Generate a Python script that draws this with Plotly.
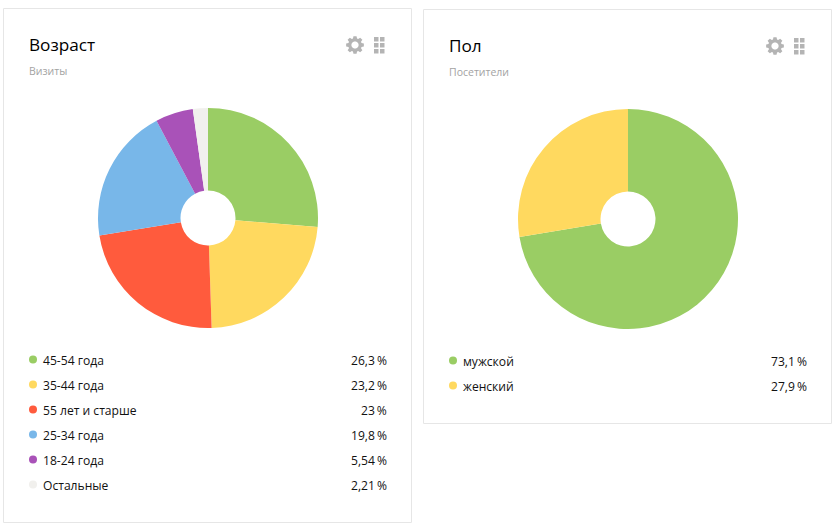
import math
import plotly.graph_objects as go

# Age breakdown (visits, %)
age_labels = ["45-54 года", "35-44 года", "55 лет и старше", "25-34 года", "18-24 года", "Остальные"]
age_values = [26.3, 23.2, 23, 19.8, 5.54, 2.21]
age_colors = ["#9acd64", "#ffd95f", "#ff5b3d", "#78b7e9", "#a952b8", "#f1f0ed"]

# Gender breakdown (visitors, %)
gender_labels = ["мужской", "женский"]
gender_values = [73.1, 27.9]
gender_colors = ["#9acd64", "#ffd95f"]

W, H = 840, 530
FONT = "Open Sans"
BORDER = "#e6e6e6"
ICON = "#b4b4b4"


def pct(v):
    return f"{v}".replace(".", ",") + "\u2009%"


def gear_path(cx, cy, r_out, r_in, r_hole, teeth=8):
    pts = []
    step = 2 * math.pi / teeth
    for i in range(teeth):
        a = i * step - math.pi / 2
        for da, r in ((-0.30, r_in), (-0.17, r_out), (0.17, r_out), (0.30, r_in)):
            pts.append((cx + r * math.cos(a + da * step * 1.3), cy + r * math.sin(a + da * step * 1.3)))
    p = "M" + " L".join(f"{x:.2f},{y:.2f}" for x, y in pts) + " Z"
    # reversed inner ring leaves the centre of the gear open
    hole = [(cx + r_hole * math.cos(-k * math.pi / 12), cy + r_hole * math.sin(-k * math.pi / 12)) for k in range(24)]
    return p + " M" + " L".join(f"{x:.2f},{y:.2f}" for x, y in hole) + " Z"


fig = go.Figure()
shapes, notes = [], []


def text(x, y, s, size, color="#111111", anchor="left"):
    notes.append(dict(x=x, y=y, text=s, xref="x", yref="y", showarrow=False, xanchor=anchor,
                      yanchor="middle", font=dict(family=FONT, size=size, color=color)))


def card(x0, y0, x1, y1, cx, cy, title, subtitle, labels, values, colors, first_row):
    shapes.append(dict(type="rect", x0=x0, y0=y0, x1=x1, y1=y1, xref="x", yref="y", layer="below",
                       line=dict(color=BORDER, width=1), fillcolor="white"))
    tx = x0 + 23
    text(tx, y0 + 36, title, 17.2, "#000000")
    text(tx, y0 + 62, subtitle, 10.5, "#a3a3a3")

    # settings gear and drag handle
    gx = x0 + 351.5
    gy = y0 + 36.5
    shapes.append(dict(type="path", path=gear_path(gx, gy, 9, 6.8, 3.6), xref="x", yref="y",
                       fillcolor=ICON, line=dict(width=0), layer="below"))
    for col in (0, 1):
        for row in (0, 1, 2):
            sx = x0 + 370.5 + col * 6
            sy = y0 + 28.5 + row * 6
            shapes.append(dict(type="rect", x0=sx, y0=sy, x1=sx + 4.5, y1=sy + 4.5, xref="x", yref="y",
                               fillcolor=ICON, line=dict(width=0), layer="below"))

    r = 110
    fig.add_trace(go.Pie(labels=labels, values=values, sort=False, direction="clockwise", rotation=0,
                         hole=0.25, textinfo="none", showlegend=False,
                         marker=dict(colors=colors, line=dict(width=0)),
                         domain=dict(x=[(cx - r) / W, (cx + r) / W], y=[1 - (cy + r) / H, 1 - (cy - r) / H])))

    for i, (lab, val, col) in enumerate(zip(labels, values, colors)):
        y = first_row + i * 25
        shapes.append(dict(type="circle", x0=x0 + 25.5, x1=x0 + 33.5, y0=y - 4.5, y1=y + 3.5, xref="x", yref="y",
                           fillcolor=col, line=dict(width=0), layer="below"))
        text(x0 + 37.5, y, lab, 12.1)
        text(x0 + 385.5, y, pct(val), 12.1, anchor="right")


card(3.5, 8.5, 411.5, 522.5, 208, 218, "Возраст", "Визиты", age_labels, age_values, age_colors, 360)
card(423.5, 9.5, 831.5, 423.5, 628, 219, "Пол", "Посетители", gender_labels, gender_values, gender_colors, 361)

# A hidden pixel-scaled axis pair carries the panels, icons and legend rows
fig.add_trace(go.Scatter(x=[0], y=[0], mode="markers", marker=dict(opacity=0), showlegend=False, hoverinfo="skip"))
fig.update_layout(
    width=W, height=H, margin=dict(l=0, r=0, t=0, b=0),
    paper_bgcolor="white", plot_bgcolor="white",
    xaxis=dict(range=[0, W], visible=False, domain=[0, 1], fixedrange=True),
    yaxis=dict(range=[H, 0], visible=False, domain=[0, 1], fixedrange=True),
    shapes=shapes, annotations=notes, showlegend=False,
)
fig.write_html("out.html", config=dict(displayModeBar=False))
